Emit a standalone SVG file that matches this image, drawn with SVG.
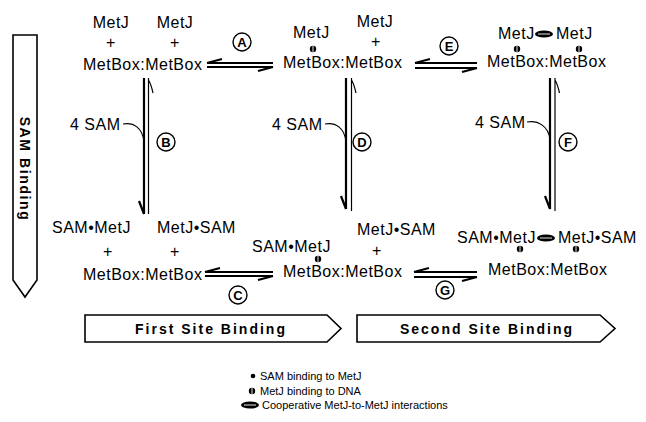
<svg xmlns="http://www.w3.org/2000/svg" xmlns:xlink="http://www.w3.org/1999/xlink" width="646" height="422" viewBox="0 0 646 422">
<style>
text{font-family:"Liberation Sans",Arial,sans-serif;fill:#000}
.t{font-size:16px;letter-spacing:0.5px}
.c{text-anchor:middle}
.b{font-weight:bold}
.lbl{font-size:13px;font-weight:bold;text-anchor:middle}
.leg{font-size:11px}
.thick{stroke:#000;stroke-width:2.2;fill:none}
.thin{stroke:#000;stroke-width:1.2;fill:none}
.ring{stroke:#000;stroke-width:1.4;fill:#fff}
.box{stroke:#000;stroke-width:1.6;fill:#fff}
</style>
<defs>
<g id="dna"><circle r="3.2" fill="#000"/><line x1="0" y1="-3.2" x2="0" y2="3.2" stroke="#fff" stroke-width="0.9"/></g>
<g id="coop"><ellipse rx="9" ry="3.6" fill="#000"/><line x1="-6" y1="0" x2="6" y2="0" stroke="#fff" stroke-width="0.9"/></g>
</defs>

<!-- side / bottom process arrows -->
<g id="sam-binding-arrow">
<path class="box" d="M13,35 H37 V280 L25,297 L13,280 Z"/>
<text class="b" font-size="14" letter-spacing="1.6" text-anchor="middle" transform="translate(25,169) rotate(90)" x="0" y="5">SAM Binding</text>
</g>
<g id="first-site-arrow">
<path class="box" d="M85,315 H327 L341,328.5 L327,342 H85 Z"/>
<text class="b" font-size="14" letter-spacing="2" text-anchor="middle" x="211" y="334">First Site Binding</text>
</g>
<g id="second-site-arrow">
<path class="box" d="M357,315 H600 L615,328.5 L600,342 H357 Z"/>
<text class="b" font-size="14" letter-spacing="2" text-anchor="middle" x="487" y="334">Second Site Binding</text>
</g>

<!-- states -->
<g id="state-free">
<text class="t c" x="111" y="28">MetJ</text>
<text class="t c" x="175" y="28">MetJ</text>
<text class="t c" x="111" y="48">+</text>
<text class="t c" x="175" y="48">+</text>
<text class="t" x="83" y="70">MetBox:MetBox</text>
</g>
<g id="state-one-bound">
<text class="t" x="293" y="38">MetJ</text>
<use xlink:href="#dna" x="313" y="49"/>
<text class="t c" x="375" y="27">MetJ</text>
<text class="t c" x="376" y="47">+</text>
<text class="t" x="283" y="68">MetBox:MetBox</text>
</g>
<g id="state-two-bound">
<text class="t" x="498" y="39">MetJ</text>
<use xlink:href="#coop" x="544" y="34"/>
<text class="t" x="556" y="39">MetJ</text>
<use xlink:href="#dna" x="517" y="49"/>
<use xlink:href="#dna" x="579" y="49"/>
<text class="t" x="487" y="67">MetBox:MetBox</text>
</g>
<g id="state-sam-free">
<text class="t" x="52" y="233">SAM•MetJ</text>
<text class="t" x="157" y="233">MetJ•SAM</text>
<text class="t c" x="108" y="257">+</text>
<text class="t c" x="175" y="257">+</text>
<text class="t" x="83" y="280">MetBox:MetBox</text>
</g>
<g id="state-sam-one-bound">
<text class="t" x="252" y="252">SAM•MetJ</text>
<use xlink:href="#dna" x="318" y="259"/>
<text class="t" x="357" y="235">MetJ•SAM</text>
<text class="t c" x="377" y="256">+</text>
<text class="t" x="283" y="277">MetBox:MetBox</text>
</g>
<g id="state-sam-two-bound">
<text class="t" x="457" y="243">SAM•MetJ</text>
<use xlink:href="#coop" x="546" y="238"/>
<text class="t" x="558" y="243">MetJ•SAM</text>
<use xlink:href="#dna" x="520" y="249"/>
<use xlink:href="#dna" x="576" y="249"/>
<text class="t" x="488" y="275">MetBox:MetBox</text>
</g>

<!-- connectors -->
<g id="connectors">
<!-- A -->
<path class="thick" d="M207,63 H273 M207,63 L222,59"/>
<path class="thick" d="M207,67 H273 M273,67 L258,71"/>
<circle class="ring" cx="242" cy="42" r="9"/><text class="lbl" x="242" y="46.5">A</text>
<!-- E -->
<path class="thick" d="M415,63 H477 M415,63 L430,59"/>
<path class="thick" d="M415,68 H477 M477,68 L462,72"/>
<circle class="ring" cx="449" cy="46" r="9"/><text class="lbl" x="449" y="50.5">E</text>
<!-- C -->
<path class="thick" d="M205,272 H273 M205,272 L220,268"/>
<path class="thick" d="M205,276 H273 M273,276 L258,280"/>
<circle class="ring" cx="238" cy="295" r="9"/><text class="lbl" x="238" y="299.5">C</text>
<!-- G -->
<path class="thick" d="M414,272 H477 M414,272 L429,268"/>
<path class="thick" d="M414,277 H477 M477,277 L462,281"/>
<circle class="ring" cx="445" cy="290" r="9"/><text class="lbl" x="445" y="294.5">G</text>
<!-- B -->
<path class="thick" d="M144,78 V214 M144,214 L139,201"/>
<path class="thin" d="M148.5,78 V214 M148.5,80 Q151,84 153,93"/>
<path class="thin" d="M123,124 C134,122 142,128 144,141"/>
<text class="t" x="70" y="130">4 SAM</text>
<circle class="ring" cx="166" cy="142" r="9"/><text class="lbl" x="166" y="146.5">B</text>
<!-- D -->
<path class="thick" d="M346,78 V209 M346,209 L341,196"/>
<path class="thin" d="M351.5,78 V211 M351.5,80 Q354,84 356,93"/>
<path class="thin" d="M325,124 C336,122 344,128 346,141"/>
<text class="t" x="272" y="130">4 SAM</text>
<circle class="ring" cx="362" cy="142" r="9"/><text class="lbl" x="362" y="146.5">D</text>
<!-- F -->
<path class="thick" d="M550,78 V209 M550,209 L545,196"/>
<path class="thin" d="M555,78 V211 M555,80 Q557.5,84 559.5,93"/>
<path class="thin" d="M527,122 C538,120 548,126 550,139"/>
<text class="t" x="475" y="128">4 SAM</text>
<circle class="ring" cx="568" cy="142" r="9"/><text class="lbl" x="568" y="146.5">F</text>
</g>

<!-- legend -->
<g id="legend">
<circle cx="253" cy="376" r="2.3" fill="#000"/>
<text class="leg" x="260" y="380">SAM binding to MetJ</text>
<use xlink:href="#dna" x="252" y="391"/>
<text class="leg" x="260" y="395">MetJ binding to DNA</text>
<use xlink:href="#coop" x="250" y="405"/>
<text class="leg" x="262" y="409">Cooperative MetJ-to-MetJ interactions</text>
</g>
</svg>
